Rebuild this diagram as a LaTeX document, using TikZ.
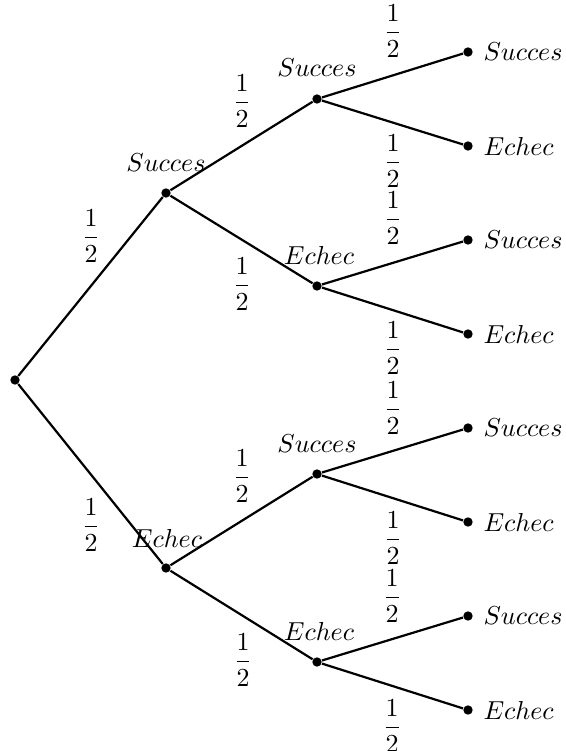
\documentclass[tikz,border=0pt]{standalone}
\usepackage{amsmath}
\begin{document}
\begin{tikzpicture}[x=0.385pt,y=-0.385pt,
  dot/.style={circle,fill=black,inner sep=0pt,minimum size=3.6pt},
  branch/.style={line width=0.85pt},
  lbl/.style={inner sep=0pt,anchor=base},
  leaf/.style={inner sep=0pt,anchor=west},
  prob/.style={inner sep=0pt}]
\useasboundingbox (0,0) rectangle (565,751);
% nodes
\node[dot] (r) at (15,380) {};
\node[dot] (a) at (166,193) {};
\node[dot] (b) at (166,568) {};
\node[dot] (aa) at (317,99) {};
\node[dot] (ab) at (317,286) {};
\node[dot] (ba) at (317,474) {};
\node[dot] (bb) at (317,662) {};
\node[dot] (aaa) at (468,52) {};
\node[dot] (aab) at (468,146) {};
\node[dot] (aba) at (468,240) {};
\node[dot] (abb) at (468,334) {};
\node[dot] (baa) at (468,428) {};
\node[dot] (bab) at (468,522) {};
\node[dot] (bba) at (468,616) {};
\node[dot] (bbb) at (468,710) {};
% branches
\draw[branch] (r) -- (a);
\draw[branch] (r) -- (b);
\draw[branch] (a) -- (aa);
\draw[branch] (a) -- (ab);
\draw[branch] (b) -- (ba);
\draw[branch] (b) -- (bb);
\draw[branch] (aa) -- (aaa);
\draw[branch] (aa) -- (aab);
\draw[branch] (ab) -- (aba);
\draw[branch] (ab) -- (abb);
\draw[branch] (ba) -- (baa);
\draw[branch] (ba) -- (bab);
\draw[branch] (bb) -- (bba);
\draw[branch] (bb) -- (bbb);
% inner labels
\node[lbl] (la) at (166,171) {$Succes$};
\node[lbl] (lb) at (167,547) {$Echec$};
\node[lbl] (laa) at (317,77) {$Succes$};
\node[lbl] (lab) at (319,264) {$Echec$};
\node[lbl] (lba) at (317,452) {$Succes$};
\node[lbl] (lbb) at (319,640) {$Echec$};
% leaf labels
\node[leaf] (laaa) at (483,52) {$Succes$};
\node[leaf] (laab) at (483,146) {$Echec$};
\node[leaf] (laba) at (483,240) {$Succes$};
\node[leaf] (labb) at (483,334) {$Echec$};
\node[leaf] (lbaa) at (483,428) {$Succes$};
\node[leaf] (lbab) at (483,522) {$Echec$};
\node[leaf] (lbba) at (483,616) {$Succes$};
\node[leaf] (lbbb) at (483,710) {$Echec$};
% probabilities
\node[prob] (p1) at (91,236) {$\dfrac{1}{2}$};
\node[prob] (p2) at (91,525) {$\dfrac{1}{2}$};
\node[prob] (p3) at (242,101) {$\dfrac{1}{2}$};
\node[prob] (p4) at (242,284) {$\dfrac{1}{2}$};
\node[prob] (p5) at (242,476) {$\dfrac{1}{2}$};
\node[prob] (p6) at (243,660) {$\dfrac{1}{2}$};
\node[prob] (p7) at (393,31) {$\dfrac{1}{2}$};
\node[prob] (p8) at (393,161) {$\dfrac{1}{2}$};
\node[prob] (p9) at (393,218) {$\dfrac{1}{2}$};
\node[prob] (p10) at (393,348) {$\dfrac{1}{2}$};
\node[prob] (p11) at (393,408) {$\dfrac{1}{2}$};
\node[prob] (p12) at (393,538) {$\dfrac{1}{2}$};
\node[prob] (p13) at (392,596) {$\dfrac{1}{2}$};
\node[prob] (p14) at (392,726) {$\dfrac{1}{2}$};
\end{tikzpicture}
\end{document}
